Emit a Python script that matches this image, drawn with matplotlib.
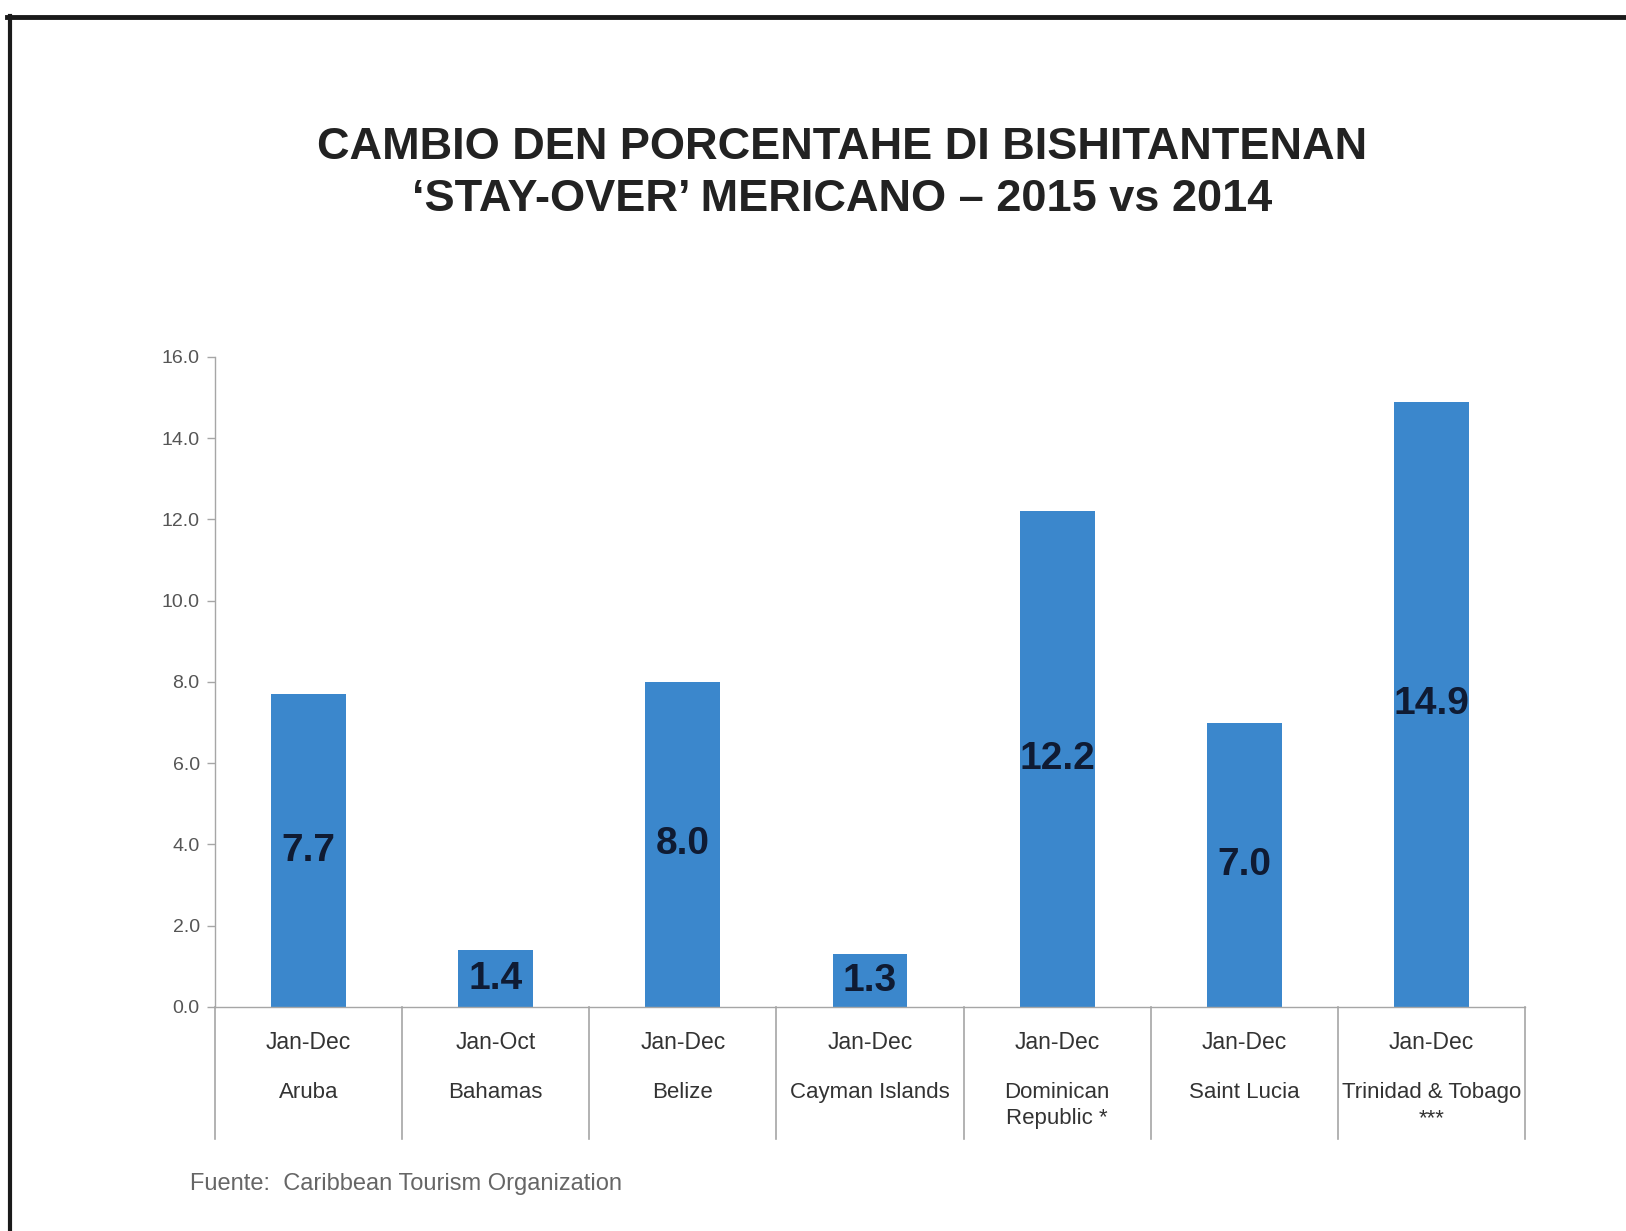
#!/usr/bin/env python3
"""
Stay-over visitor change bar chart (2015 vs 2014)
"""
import matplotlib as mpl
import matplotlib.pyplot as plt
from matplotlib.lines import Line2D

mpl.rcParams.update({
    "font.family": ["Liberation Sans", "DejaVu Sans"],
})

# ---------------------------------------------------------------------------
# Data
# ---------------------------------------------------------------------------
countries = ["Aruba", "Bahamas", "Belize", "Cayman Islands",
             "Dominican\nRepublic *", "Saint Lucia", "Trinidad & Tobago\n***"]
periods = ["Jan-Dec", "Jan-Oct", "Jan-Dec", "Jan-Dec", "Jan-Dec", "Jan-Dec", "Jan-Dec"]
change_pct = [7.7, 1.4, 8.0, 1.3, 12.2, 7.0, 14.9]
y_ticks = [0, 2, 4, 6, 8, 10, 12, 14, 16]

title = "CAMBIO DEN PORCENTAHE DI BISHITANTENAN\n\u2018STAY-OVER\u2019 MERICANO \u2013 2015 vs 2014"
source = "Fuente:  Caribbean Tourism Organization"

BAR = "#3b87cc"
LABEL = "#0f1b33"
GRID = "#a6a6a6"

# ---------------------------------------------------------------------------
# Plot
# ---------------------------------------------------------------------------
fig = plt.figure(figsize=(16.26, 12.31), dpi=100)
ax = fig.add_axes([0.1322, 0.182, 0.8057, 0.528])

x = list(range(len(countries)))
bars = ax.bar(x, change_pct, width=0.4, color=BAR, zorder=2)

for rect, v in zip(bars, change_pct):
    ax.text(rect.get_x() + rect.get_width() / 2, v / 2, f"{v:.1f}",
            ha="center", va="center", fontsize=28, fontweight="bold",
            color=LABEL)

ax.set_xlim(-0.5, len(countries) - 0.5)
ax.set_ylim(0, 16)
ax.set_yticks(y_ticks, labels=[f"{t:.1f}" for t in y_ticks])
ax.tick_params(axis="y", direction="out", length=6, width=1, color=GRID,
               labelsize=14, labelcolor="#555555", pad=5)
ax.set_xticks([])

for side in ("top", "right"):
    ax.spines[side].set_visible(False)
for side in ("left", "bottom"):
    ax.spines[side].set_color(GRID)
    ax.spines[side].set_linewidth(1)

# category separators under the axis
trans = ax.get_xaxis_transform()
for b in range(len(countries) + 1):
    ax.add_line(Line2D([b - 0.5, b - 0.5], [0, -0.203], transform=trans,
                       color=GRID, lw=1.2, clip_on=False))

for i, (per, name) in enumerate(zip(periods, countries)):
    ax.text(i, -0.054, per, transform=trans, ha="center", va="center",
            fontsize=16.5, color="#333333")
    ax.text(i, -0.116, name, transform=trans, ha="center", va="top",
            fontsize=16, color="#333333", linespacing=1.3)

fig.text(0.518, 0.859, title, ha="center", va="center", fontsize=32.5,
         fontweight="bold", color="#222222", linespacing=1.33)
fig.text(0.117, 0.038, source, ha="left", va="center", fontsize=17,
         color="#666666")

# outer frame (top and left edges)
fig.add_artist(Line2D([0.004, 1.0], [0.986, 0.986], transform=fig.transFigure,
                      color="#1a1a1a", lw=3.5))
fig.add_artist(Line2D([0.006, 0.006], [0.0, 0.987], transform=fig.transFigure,
                      color="#1a1a1a", lw=3.0))

fig.savefig("out.png", dpi=100)
